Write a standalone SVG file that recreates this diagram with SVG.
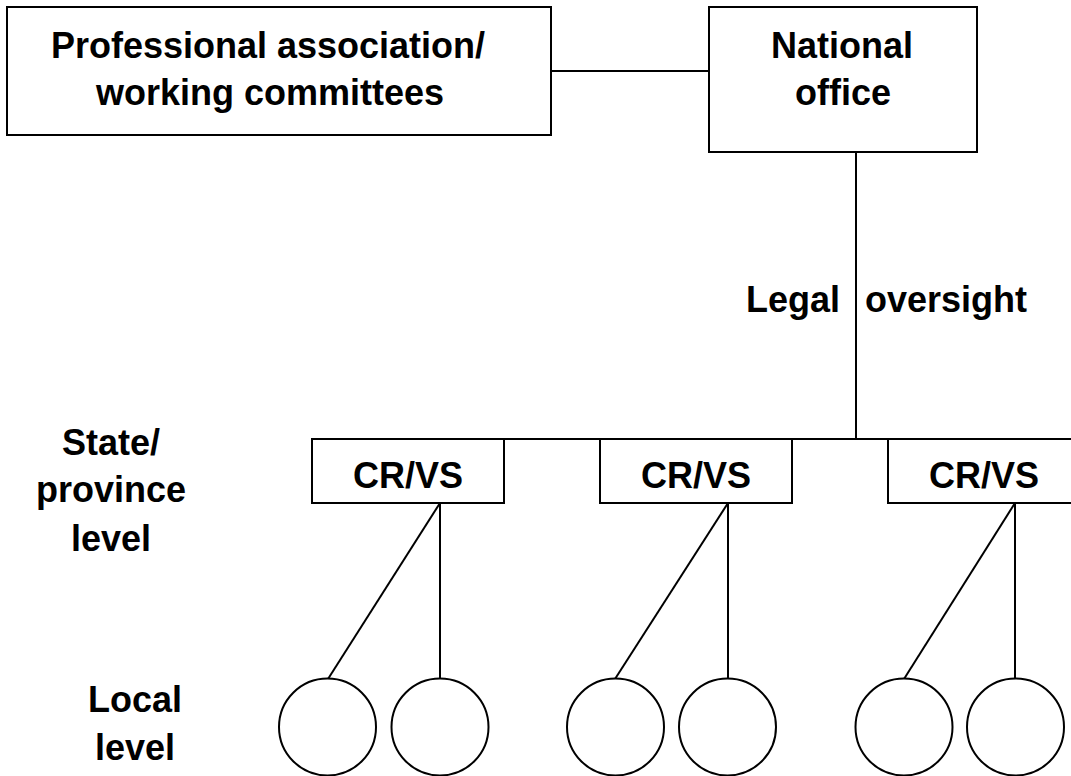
<svg xmlns="http://www.w3.org/2000/svg" width="1071" height="776" viewBox="0 0 1071 776">
<style>
.b{fill:#fff;stroke:#000;stroke-width:2}
.c{fill:none;stroke:#000;stroke-width:2}
.t{font-family:"Liberation Sans",Arial,sans-serif;font-weight:bold;font-size:36px;fill:#000;text-anchor:middle}
</style>
<rect width="1071" height="776" fill="#fff"/>
<g id="connectors" class="c">
<line x1="551" y1="71" x2="709" y2="71"/>
<line x1="856" y1="152" x2="856" y2="439"/>
<line x1="312" y1="439" x2="1071" y2="439"/>
<line x1="440" y1="503" x2="440" y2="679"/>
<line x1="440" y1="503" x2="328" y2="679"/>
<line x1="728" y1="503" x2="728" y2="679"/>
<line x1="728" y1="503" x2="615" y2="679"/>
<line x1="1015" y1="503" x2="1015" y2="679"/>
<line x1="1015" y1="503" x2="904" y2="679"/>
</g>
<g id="prof"><rect class="b" x="7" y="7" width="544" height="128"/>
<text class="t" x="268" y="58">Professional association/</text>
<text class="t" x="270" y="105">working committees</text></g>
<g id="national"><rect class="b" x="709" y="7" width="268" height="145"/>
<text class="t" x="842" y="58">National</text>
<text class="t" x="843" y="105">office</text></g>
<g id="legal"><text class="t" x="793" y="312">Legal</text><text class="t" x="946" y="312">oversight</text></g>
<g id="cr1"><rect class="b" x="312" y="439" width="192" height="64"/><text class="t" x="408" y="488">CR/VS</text></g>
<g id="cr2"><rect class="b" x="600" y="439" width="192" height="64"/><text class="t" x="696" y="488">CR/VS</text></g>
<g id="cr3"><rect class="b" x="888" y="439" width="192" height="64"/><text class="t" x="984" y="488">CR/VS</text></g>
<g id="state"><text class="t" x="111" y="455">State/</text><text class="t" x="111" y="502">province</text><text class="t" x="111" y="551">level</text></g>
<g id="local"><text class="t" x="135" y="712">Local</text><text class="t" x="135" y="760">level</text></g>
<g id="c1"><circle class="b" cx="327.5" cy="727" r="48.5"/></g>
<g id="c2"><circle class="b" cx="440" cy="727" r="48.5"/></g>
<g id="c3"><circle class="b" cx="615.5" cy="727" r="48.5"/></g>
<g id="c4"><circle class="b" cx="727.5" cy="727" r="48.5"/></g>
<g id="c5"><circle class="b" cx="904" cy="727" r="48.5"/></g>
<g id="c6"><circle class="b" cx="1015.5" cy="727" r="48.5"/></g>
</svg>
